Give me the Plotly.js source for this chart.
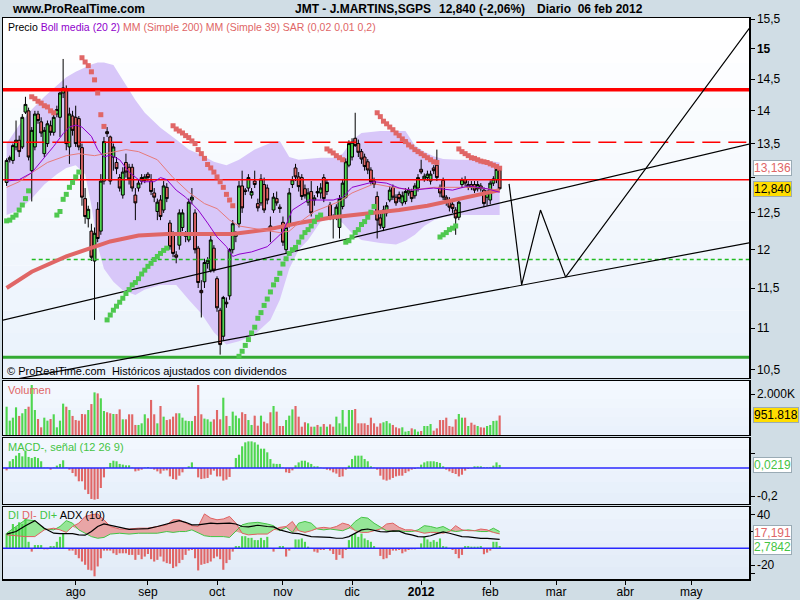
<!DOCTYPE html>
<html>
<head>
<meta charset="utf-8">
<script src="https://cdn.plot.ly/plotly-3.0.1.min.js"></script>
<style>
html,body{margin:0;padding:0;background:#d0dde5;}
#chart{width:800px;height:600px;}
</style>
</head>
<body>
<div id="chart"></div>
<script>
// ================= DATA =================
var firstDay = '2011-06-30', lastDay = '2012-02-06';

var O = [
12.93,13.26,13.25,13.45,13.55,13.45,13.98,14.00,13.10,13.45,
13.95,13.83,13.35,13.50,13.77,13.67,13.95,13.90,14.28,14.33,
13.45,13.92,13.90,13.88,13.44,12.70,12.42,12.25,11.85,12.55,
12.25,12.95,13.68,13.60,13.30,13.22,13.00,12.75,13.22,13.15,
13.15,12.75,12.85,12.95,12.96,13.05,12.95,12.78,12.52,12.68,
12.54,12.86,12.36,12.19,11.93,12.06,12.30,12.18,12.13,12.68,
12.50,12.02,11.47,11.58,11.82,11.73,12.02,11.62,11.22,10.90,
11.32,11.40,12.00,12.18,12.35,12.88,12.82,12.85,12.75,12.95,
12.63,12.64,12.90,12.85,12.32,12.54,12.70,12.58,12.37,12.00,
12.35,12.90,13.14,13.01,13.00,12.84,12.65,12.80,12.68,12.80,
12.78,13.00,12.80,12.61,12.45,12.44,12.30,12.59,12.72,13.18,
13.30,13.58,13.50,13.38,13.30,13.23,13.11,12.95,12.73,12.43,
12.30,12.50,12.68,12.86,12.72,12.76,12.64,12.66,12.78,12.80,
12.74,12.85,13.12,12.98,13.00,12.95,13.14,13.18,12.86,12.96,
12.72,12.68,12.62,12.54,12.44,12.90,12.97,12.86,12.90,12.90,
12.84,12.88,12.82,12.72,12.68,12.92,12.97,13.11];
var H = [
13.28,13.32,13.50,13.85,13.62,13.95,14.22,14.05,13.75,14.00,
14.00,13.90,13.75,13.85,13.85,13.95,14.08,14.30,14.83,14.40,
14.05,14.00,14.08,13.92,13.50,12.85,12.60,12.35,12.30,12.65,
13.05,13.60,13.75,13.62,13.50,13.30,13.05,13.15,13.35,13.20,
13.20,12.85,12.98,13.05,13.05,13.08,13.05,12.85,12.70,12.75,
12.95,12.92,12.40,12.25,11.98,12.55,12.55,12.25,12.70,12.85,
12.55,12.05,11.60,11.88,11.90,12.20,12.06,11.65,11.25,11.40,
11.38,12.02,12.40,12.25,12.95,13.10,12.85,13.05,12.85,13.10,
12.70,13.05,13.00,12.90,12.45,12.78,12.80,12.62,12.45,12.35,
12.85,13.02,13.20,13.08,13.05,12.90,12.85,12.95,12.75,12.88,
12.92,13.05,12.98,12.65,12.48,12.62,12.75,12.98,13.28,13.55,
13.58,13.97,13.56,13.42,13.35,13.27,13.15,13.00,12.80,12.50,
12.60,12.65,12.88,12.90,12.76,12.80,12.80,12.85,12.86,12.84,
12.92,13.05,13.26,13.06,13.10,13.10,13.18,13.41,12.90,13.00,
12.75,12.72,12.65,12.58,12.70,13.00,13.02,12.95,12.95,12.95,
12.95,12.92,12.86,12.82,12.96,13.02,13.15,13.14];
var L = [
12.88,13.22,13.20,13.40,13.30,13.42,13.95,13.25,12.66,13.40,
13.80,13.60,13.30,13.45,13.62,13.62,13.90,13.60,14.20,13.40,
13.20,13.62,13.45,13.40,12.60,12.35,12.30,11.85,11.10,12.10,
12.20,12.90,13.60,12.90,13.10,13.05,12.80,12.70,13.00,12.90,
12.80,12.40,12.80,12.90,12.92,12.95,12.75,12.65,12.40,12.40,
12.50,12.65,12.00,11.90,11.82,12.00,12.25,12.10,12.10,12.62,
11.95,11.50,11.13,11.50,11.75,11.70,11.70,11.20,10.68,10.85,
11.25,11.35,11.95,12.10,12.30,12.50,12.75,12.80,12.70,12.85,
12.52,12.60,12.50,12.62,12.10,12.50,12.60,12.50,12.05,11.95,
12.30,12.85,12.95,12.80,12.68,12.70,12.60,12.45,12.60,12.72,
12.70,12.65,12.75,12.40,12.15,12.40,12.15,12.55,12.70,13.15,
13.25,13.45,13.30,13.20,13.10,13.05,12.90,12.85,12.15,12.28,
12.25,12.45,12.65,12.68,12.60,12.65,12.60,12.62,12.74,12.65,
12.70,12.80,13.05,12.94,12.95,12.90,13.05,12.95,12.72,12.68,
12.60,12.52,12.50,12.20,12.40,12.85,12.88,12.82,12.82,12.78,
12.80,12.80,12.58,12.60,12.62,12.88,12.92,12.82];
var C = [
13.25,13.29,13.47,13.55,13.38,13.90,14.10,13.30,13.70,13.95,
13.85,13.66,13.70,13.80,13.67,13.90,14.02,14.28,14.36,13.50,
13.95,13.70,13.50,13.45,12.72,12.45,12.55,11.90,12.22,12.15,
12.95,13.53,13.65,12.95,13.45,13.13,12.85,13.08,13.08,12.98,
12.85,12.64,12.92,13.00,13.01,13.00,12.80,12.72,12.65,12.45,
12.88,12.70,12.04,11.95,11.90,12.50,12.50,12.22,12.65,12.72,
12.00,11.57,11.44,11.83,11.86,12.13,11.73,11.25,10.80,11.38,
11.30,12.00,12.35,12.22,12.88,12.57,12.80,13.00,12.80,12.90,
12.57,12.98,12.54,12.68,12.28,12.72,12.64,12.56,12.10,12.30,
12.78,12.97,13.01,12.87,12.73,12.74,12.78,12.50,12.71,12.78,
12.85,12.70,12.93,12.44,12.42,12.58,12.70,12.92,13.23,13.50,
13.52,13.47,13.37,13.27,13.16,13.11,12.94,12.90,12.40,12.33,
12.54,12.60,12.82,12.72,12.64,12.70,12.74,12.80,12.82,12.70,
12.88,13.00,13.08,13.02,13.05,13.05,13.10,13.00,12.78,12.72,
12.68,12.58,12.56,12.43,12.65,12.97,12.92,12.90,12.86,12.82,
12.90,12.84,12.63,12.78,12.92,12.98,13.12,12.84];

// volume in thousands
var volume = [
1380,700,845,1350,930,1060,1270,1380,2440,1220,
780,375,845,700,780,1010,375,700,1530,1380,
1220,930,730,700,1025,1010,1220,1510,2080,2030,
1790,1170,1110,1060,1025,1025,1250,765,765,1010,
1010,490,490,570,1010,815,1710,1010,570,1415,
895,730,765,895,1060,1060,845,700,680,680,
930,2440,1010,800,765,650,765,1220,765,1820,
930,440,1140,945,815,1110,1025,730,490,945,
455,945,650,570,1110,1415,1140,440,440,730,
945,1250,1415,895,405,620,570,405,405,490,
405,535,405,520,405,895,570,1220,405,1220,
1220,1270,570,570,570,490,845,570,405,570,
620,680,570,490,375,325,
375,165,195,325,275,165,195,440,440,535,
210,325,730,730,845,440,405,765,1025,845,
845,440,600,500,440,375,360,440,490,685,
700,951.818];

var macdHist = [
-0.017,0.048,0.064,0.088,0.107,0.083,0.124,0.079,0.071,0.079,
0.071,0.048,0.003,0.003,-0.012,0.003,0.017,0.029,0.055,0.003,
-0.012,-0.036,-0.060,-0.095,-0.095,-0.155,-0.186,-0.221,-0.226,-0.221,
-0.143,-0.067,0.003,0.036,0.052,0.048,0.029,0.024,0.019,0.019,
0.003,-0.024,-0.019,-0.012,0.003,0.007,-0.003,-0.012,-0.024,-0.040,
-0.019,-0.017,-0.060,-0.079,-0.083,-0.055,-0.031,-0.003,0.012,0.040,
0.003,-0.067,-0.079,-0.075,-0.071,-0.048,-0.019,-0.060,-0.060,-0.090,
-0.083,-0.064,-0.003,0.071,0.095,0.155,0.183,0.190,0.190,0.183,
0.167,0.138,0.138,0.112,0.064,0.031,0.029,0.029,0.003,-0.031,
-0.036,-0.017,0.019,0.040,0.052,0.052,0.040,0.029,0.012,0.012,
0.003,-0.003,-0.012,-0.017,-0.031,-0.040,-0.064,-0.060,-0.012,0.017,
0.064,0.088,0.088,0.088,0.064,0.048,0.012,0.003,-0.012,-0.055,
-0.083,-0.090,-0.083,-0.071,-0.060,-0.055,
-0.055,-0.036,-0.024,-0.012,-0.007,0.003,0.024,0.040,0.048,0.048,
0.048,0.043,0.036,0.012,-0.012,-0.024,-0.036,-0.043,-0.060,-0.048,
-0.019,-0.007,-0.003,0.012,0.012,0.012,0.004,0.004,0.004,0.017,
0.040,0.0219];

var diHist = [
17.6,19.6,29,25,31,29,35,7.8,-3.9,3.9,
3.9,3.9,-1.2,-1.2,2.7,2.7,7.8,13.7,17.6,0.5,
-2.7,-2.7,-7.8,-11.8,-15.7,-19.6,-25.5,-26.3,-33.3,-21.6,
-11.8,-2.7,-2.7,-2.7,-5.9,-7.8,-5.9,-5.9,-5.9,-7.8,
-7.8,-13.7,-7.8,-12.9,-9.8,-6.7,-12.9,-15.7,-13.7,-9.8,
-15.7,-17.6,-18.4,-23.5,-21.6,-17.6,-13.7,-7.8,-2.7,-2,
-11.8,-26.3,-19.6,-18.5,-17.6,-15.7,-11.8,-9.8,-12.9,-25.5,
-17.6,-13.7,-3.9,2.7,2.7,14.5,14.5,12.5,12.5,9.8,
9.8,12.5,9.8,13.7,0.5,-3.9,-0.5,2.7,2.7,-9.8,
-2.7,0.5,10.6,10.6,11.8,7.8,2,0.5,-3.9,-5.1,
-2,-2,-0.5,-2.7,-6.7,-13.7,-7.8,-11.8,-2,9.8,
15.7,17.6,13.7,17.6,11.8,9.8,7.8,2.7,-0.5,-9,
-12.9,-11.8,-7.8,-2.7,-2.7,-2,
-5.9,-3.9,-2,-1.2,-1.2,0.5,5.9,13.7,10.6,7.8,
9.8,7.8,11.8,2.7,2,0.5,-2,-6.7,-11.8,-7.8,
2.7,2.7,2,2,2,2.7,-7,-5.1,-2.7,7.8,
7.8,2.7842];

// Parabolic SAR, one per session (null = none drawn)
var sar = [
12.39,12.40,12.44,12.47,12.54,12.61,12.70,12.81,
14.22,14.19,14.15,14.12,14.08,14.06,14.00,13.97,
12.47,12.52,12.69,12.76,12.86,12.93,13.01,13.08,
14.85,14.78,14.72,14.62,14.49,14.28,13.94,13.76,
11.10,11.16,11.22,11.27,11.32,11.37,11.43,11.48,11.54,11.57,11.62,11.68,11.73,11.78,11.82,11.87,11.91,11.95,11.99,12.02,
null,
13.77,13.72,13.69,13.66,13.62,13.59,13.54,13.50,13.41,13.35,13.28,13.19,13.14,13.08,13.01,12.94,12.86,12.76,12.68,12.60,
null,
10.66,10.72,10.79,10.86,10.94,11.01,11.12,11.19,11.28,11.36,11.45,11.54,11.61,11.69,11.81,11.88,11.95,12.00,12.03,12.10,12.17,12.23,12.27,12.32,12.38,12.44,12.47,
null,
13.42,13.39,13.36,13.32,13.29,13.26,
12.10,12.12,12.17,12.23,12.27,12.34,12.38,12.44,12.51,12.59,
13.97,13.91,13.84,13.80,13.75,13.71,13.66,13.62,13.57,13.53,13.48,13.45,13.41,13.38,13.35,13.32,13.29,13.26,13.23,13.22,
12.17,12.20,12.23,12.27,12.29,12.32,
13.42,13.38,13.35,13.32,13.29,13.28,13.26,13.24,13.23,13.22,13.20,13.18,13.16,13.136];

// indicator samples: session number counted from 1 Aug 2011
var bollDay   = [-22,-18,-14,-10,-6,-3,0,3,5,7,9,12,15,19,22,27,32,36,40,44,48,52,57,62,65,68,71,74,78,82,85,88,91,97,102,105,108,111,114,117,122,129,135];
var bollUpper = [13.50,13.78,14.02,14.22,14.40,14.53,14.62,14.70,14.74,14.77,14.77,14.73,14.49,14.17,13.97,13.74,13.56,13.41,13.33,13.23,13.18,13.26,13.41,13.51,13.54,13.30,13.26,13.27,13.29,13.29,13.35,13.55,13.66,13.69,13.69,13.69,13.47,13.38,13.31,13.27,13.26,13.26,13.22];
var bollLower = [12.47,12.54,12.70,12.90,13.05,13.14,13.18,13.05,12.60,12.05,11.75,11.58,11.47,11.41,11.48,11.54,11.54,11.35,11.18,10.95,10.80,10.84,10.92,11.10,11.35,11.75,12.00,12.13,12.38,12.44,12.36,12.22,12.13,12.09,12.07,12.12,12.20,12.32,12.40,12.44,12.47,12.47,12.47];
var midDay = [-22,-18,-14,-11,-7,-4,-2,0,2,5,7,9,11,14,17,20,21,25,27,29,32,35,39,42,45,48,50,52,56,61,66,69,74,82,85,88,95,99,103,107,114,120,125,131,135];
var bollMid = [12.95,12.97,13.07,13.23,13.46,13.65,13.75,13.78,13.75,13.61,13.41,13.30,13.33,13.26,13.08,12.97,12.94,12.94,13.00,12.97,12.82,12.72,12.54,12.36,12.17,12.04,11.91,11.94,11.97,12.04,12.24,12.54,12.68,12.68,12.72,12.86,12.94,12.92,12.85,12.82,12.85,12.82,12.88,12.84,12.79];
var mm39Day = [-22,-18,-14,-9,-3,1,6,11,16,20,26,31,36,41,45,49,52,59,65,68,71,76,84,88,95,101,107,114,127,135];
var mm39 = [12.86,12.94,13.07,13.22,13.32,13.35,13.32,13.37,13.41,13.38,13.26,13.00,12.79,12.63,12.56,12.40,12.32,12.27,12.23,12.25,12.36,12.52,12.66,12.78,12.91,12.86,12.82,12.86,12.86,12.82];
var mm200Day = [-22,-14,-3,4,11,20,29,40,50,61,71,82,93,103,112,119,127,135];
var mm200 = [11.50,11.71,11.91,12.01,12.11,12.19,12.21,12.21,12.21,12.27,12.36,12.44,12.49,12.54,12.60,12.67,12.74,12.82];

var diDay = [-22,-19,-16,-13,-10,-7,-5,-3,-1,1,3,5,7,9,11,14,17,20,23,26,29,31,33,35,37,39,41,43,45,47,49,51,53,55,58,61,63,65,67,69,71,73,75,77,79,81,83,85,87,89,91,93,95,97,99,101,103,105,107,109,111,113,115,117,119,121,123,125,127,129,131,133,135];
var diPlus = [18,26,34,33,23,22,26,33,30,22,18,14,12,13,17,18,17,18,18,18,20,19,20,20,22,18,15,14,14,14,13,20,28,30,31,29,27,21,25,19,30,32,30,23,22,23,22,21,24,32,37,36,30,25,21,20,21,20,20,22,27,26,24,26,22,20,21,22,21,20,20,24,20];
var diMinus = [16,15,14,14,22,24,22,19,26,30,38,40,41,34,26,23,23,24,24,26,28,34,34,30,27,26,41,36,34,35,38,30,18,16,17,17,22,25,26,32,21,19,21,24,25,24,26,30,28,21,19,19,21,23,29,30,25,22,22,20,18,19,19,18,20,27,22,21,21,23,22,19,17.191];
var adx = [17,20,27,33,24,18,17.6,17.6,17.6,16,15.7,20,26,29,27.5,25.5,22.5,23,23.5,26,29.4,31,33,31,28,28,29.4,30,29.4,29.4,30,29,26,25.5,27.5,26,25.5,22,19.6,18,17.6,16,14,13.7,13.7,13,12,12,14,17.6,22,23,21.6,20,19.6,20.8,20.5,17.6,16,14,13.7,15,17.6,19.6,18,16,14,13.7,12.5,11.8,11.8,11,10.6];

// drawn levels and trendlines
var levelStrong = 14.33, levelDash = 13.52, levelThin = 12.97, supportDash = 11.87, supportStrong = 10.65;
var lineDates = ['2011-06-28','2012-05-28'];
var trendUpper = [11.09, 13.52];
var trendLower = [10.36, 12.11];
var supportDashStart = '2011-07-12';
var projDates = ['2012-02-09','2012-02-15','2012-02-23','2012-03-06','2012-05-29'];
var projPrices = [12.91, 11.54, 12.54, 11.64, 15.6];

var monthTicks = ['2011-08-01','2011-09-01','2011-10-03','2011-11-01','2011-12-01','2012-01-02','2012-02-01','2012-03-01','2012-04-02','2012-05-01'];
var monthLabels = ['ago','sep','oct','nov','dic','<b>2012</b>','feb','mar','abr','may'];
var priceTicks = [10.5,11,11.5,12,12.5,13,13.5,14,14.5,15,15.5];
var priceTickText = ['10,5','11','11,5','12','12,5','','13,5','14','14,5','<b>15</b>','15,5'];

var lastClose = 12.840, lastSar = 13.136, lastVol = 951.818, lastMacd = 0.0219, lastDiMinus = 17.191, lastDiHist = 2.7842;

// ================= BUILD =================
function tradingDays(a, b) {
  var out = [], d = new Date(a + 'T00:00:00Z'), e = new Date(b + 'T00:00:00Z');
  while (d <= e) { var w = d.getUTCDay(); if (w !== 0 && w !== 6) out.push(d.toISOString().slice(0, 10)); d.setUTCDate(d.getUTCDate() + 1); }
  return out;
}
var dates = tradingDays(firstDay, lastDay);
var base = dates.indexOf('2011-08-01');
function dd(i) { return dates[i + base]; }

var GREEN = '#4fd64f', RED = '#e06666', FONT = 'Liberation Sans, Arial, sans-serif';
var up = C.map(function (c, i) { return c >= O[i]; });
var traces = [];
function line(x, y, xa, ya, color, width, dash) {
  return {type: 'scatter', mode: 'lines', x: x, y: y, xaxis: xa, yaxis: ya, hoverinfo: 'skip', showlegend: false,
          line: {color: color, width: width, dash: dash || 'solid'}};
}

// --- main: Bollinger band (under candles)
var bollX = bollDay.map(dd);
traces.push(line(bollX, bollLower, 'x', 'y', 'rgba(0,0,0,0)', 0));
var bu = line(bollX, bollUpper, 'x', 'y', 'rgba(0,0,0,0)', 0); bu.fill = 'tonexty'; bu.fillcolor = '#d8c7f9';
traces.push(bu);

// --- main overlay: candles, lines, SAR
traces.push({type: 'candlestick', x: dates, open: O, high: H, low: L, close: C, xaxis: 'x', yaxis: 'y5',
  whiskerwidth: 0, hoverinfo: 'skip', showlegend: false,
  increasing: {line: {color: '#000', width: 1}, fillcolor: GREEN},
  decreasing: {line: {color: '#000', width: 1}, fillcolor: RED}});
traces.push(line(lineDates, [levelStrong, levelStrong], 'x', 'y5', '#ff0000', 3.5));
traces.push(line(lineDates, [levelDash, levelDash], 'x', 'y5', '#ff0000', 1.5, '18px,8px'));
traces.push(line(lineDates, [levelThin, levelThin], 'x', 'y5', '#ff0000', 1.5));
traces.push(line([supportDashStart, lineDates[1]], [supportDash, supportDash], 'x', 'y5', '#22bb22', 1.3, '4px,3px'));
traces.push(line(lineDates, [supportStrong, supportStrong], 'x', 'y5', '#33aa33', 3));
traces.push(line(lineDates, trendUpper, 'x', 'y5', '#000', 1.2));
traces.push(line(lineDates, trendLower, 'x', 'y5', '#000', 1.2));
traces.push(line(projDates, projPrices, 'x', 'y5', '#000', 1.2));
traces.push(line(mm200Day.map(dd), mm200, 'x', 'y5', '#e06666', 4));
traces.push(line(mm39Day.map(dd), mm39, 'x', 'y5', '#e77a7a', 1));
traces.push(line(midDay.map(dd), bollMid, 'x', 'y5', '#9000cc', 1));
var sg = {x: [], y: []}, sr = {x: [], y: []};
sar.forEach(function (v, i) { if (v == null) return; var t = v < C[i] ? sg : sr; t.x.push(dates[i]); t.y.push(v); });
traces.push({type: 'scatter', mode: 'markers', x: sg.x, y: sg.y, xaxis: 'x', yaxis: 'y5', hoverinfo: 'skip', showlegend: false,
  marker: {symbol: 'square', size: 5, color: '#4fc84f', line: {width: 0}}});
traces.push({type: 'scatter', mode: 'markers', x: sr.x, y: sr.y, xaxis: 'x', yaxis: 'y5', hoverinfo: 'skip', showlegend: false,
  marker: {symbol: 'square', size: 5, color: '#e06666', line: {width: 0}}});

// --- volume
traces.push({type: 'bar', x: dates, y: volume, xaxis: 'x2', yaxis: 'y2', hoverinfo: 'skip', showlegend: false,
  marker: {color: up.map(function (u) { return u ? GREEN : RED; }), line: {width: 0}}});

// --- MACD
traces.push({type: 'bar', x: dates, y: macdHist, xaxis: 'x3', yaxis: 'y3', hoverinfo: 'skip', showlegend: false,
  marker: {color: macdHist.map(function (v) { return v >= 0 ? GREEN : RED; }), line: {width: 0}}});
traces.push(line(lineDates, [0, 0], 'x3', 'y3', '#2828ff', 1.5));

// --- DI / ADX
var diX = diDay.map(dd);
var diLow = diPlus.map(function (v, i) { return Math.min(v, diMinus[i]); });
traces.push(line(diX, diLow, 'x4', 'y4', 'rgba(0,0,0,0)', 0));
var fp = line(diX, diPlus, 'x4', 'y4', 'rgba(0,0,0,0)', 0); fp.fill = 'tonexty'; fp.fillcolor = 'rgba(140,228,140,0.9)'; traces.push(fp);
traces.push(line(diX, diLow, 'x4', 'y4', 'rgba(0,0,0,0)', 0));
var fm = line(diX, diMinus, 'x4', 'y4', 'rgba(0,0,0,0)', 0); fm.fill = 'tonexty'; fm.fillcolor = 'rgba(232,156,156,0.9)'; traces.push(fm);
traces.push({type: 'bar', x: dates, y: diHist, xaxis: 'x4', yaxis: 'y6', hoverinfo: 'skip', showlegend: false,
  marker: {color: diHist.map(function (v) { return v >= 0 ? GREEN : RED; }), line: {width: 0}}});
traces.push(line(lineDates, [0, 0], 'x4', 'y6', '#2828ff', 1.5));
traces.push(line(diX, diPlus, 'x4', 'y6', '#44c444', 1));
traces.push(line(diX, diMinus, 'x4', 'y6', '#e06060', 1));
traces.push(line(diX, adx, 'x4', 'y6', '#000', 1.2));

// ================= LAYOUT =================
var xrange = ['2011-06-28 20:24', '2012-05-25 09:36'];
function xax(anchor, show) {
  return {anchor: anchor, type: 'date', range: xrange, rangebreaks: [{bounds: ['sat', 'mon']}],
    showline: true, mirror: true, linecolor: '#000', linewidth: 1.5, showgrid: false, zeroline: false,
    ticks: show ? 'outside' : '', ticklen: 4, tickcolor: '#000', showticklabels: show, ticklabelstandoff: -3,
    tickmode: 'array', tickvals: monthTicks, ticktext: monthLabels, tickfont: {size: 12, color: '#000'}, fixedrange: true};
}
function yax(domain, range, extra) {
  var a = {domain: domain, range: range, side: 'right', showline: true, mirror: true, linecolor: '#000', linewidth: 1.5,
    ticks: 'outside', ticklen: 4, tickcolor: '#000', showgrid: false, zeroline: false, tickmode: 'array',
    tickfont: {size: 12, color: '#000'}, fixedrange: true};
  for (var k in extra) a[k] = extra[k];
  return a;
}
var logRange = [Math.log10(10.4066), Math.log10(15.52)];
var adxRange = [-36.5, 49.2];

var shapes = [];
function gradient(yref, top, bottom, n) {
  for (var k = 0; k < n; k++) {
    var t = k / (n - 1);
    var c = top.map(function (v, j) { return Math.round(v + (bottom[j] - v) * t); });
    shapes.push({type: 'rect', xref: 'paper', yref: yref + ' domain', x0: 0, x1: 1, y0: 1 - (k + 1) / n, y1: 1 - k / n,
      fillcolor: 'rgb(' + c.join(',') + ')', line: {width: 0}, layer: 'below'});
  }
}
gradient('y', [255, 255, 255], [234, 242, 252], 16);
gradient('y2', [244, 248, 254], [234, 242, 252], 6);
gradient('y3', [242, 247, 254], [230, 239, 250], 6);
gradient('y4', [236, 243, 252], [226, 235, 247], 6);

function px(x) { return (x - 3) / 746; }
function py(y) { return (579 - y) / 561; }
function txt(x, y, text, size, color, extra) {
  var a = {xref: 'paper', yref: 'paper', x: px(x), y: py(y), xanchor: 'left', yanchor: 'middle', text: text,
    showarrow: false, font: {family: FONT, size: size, color: color}};
  for (var k in extra) a[k] = extra[k];
  return a;
}
function box(yref, y, text, color, bg) {
  return {xref: 'paper', yref: yref, x: 1, y: y, xanchor: 'left', yanchor: 'middle', xshift: 4, text: text, showarrow: false,
    font: {family: FONT, size: 12, color: color}, bgcolor: bg, bordercolor: '#9aabb5', borderwidth: 1, borderpad: 0};
}
function num(v, d) { return v.toFixed(d).replace('.', ','); }

var annotations = [
  txt(10, 9, '<b>www.ProRealTime.com</b>', 12, '#000'),
  txt(293, 9, '<b>JMT - J.MARTINS,SGPS</b>', 12, '#000'),
  txt(437, 9, '<b>' + num(lastClose, 3) + ' (-2,06%)</b>', 12, '#000'),
  txt(535, 9, '<b>Diario\u00a0 06 feb 2012</b>', 12, '#000'),
  txt(6, 27, 'Precio <span style="color:#9000cc">Boll media (20 2)</span> <span style="color:#e06666">MM (Simple 200) MM (Simple 39) SAR (0,02 0,01 0,2)</span>', 10.5, '#000'),
  txt(5, 371, '\u00a9 ProRealTime.com\u00a0 Hist\u00f3ricos ajustados con dividendos', 11, '#000'),
  txt(6, 390, 'Volumen', 11, '#e06666'),
  txt(6, 447, 'MACD-, se\u00f1al (12 26 9)', 11, '#44c444'),
  txt(6, 515, '<span style="color:#44c444">DI</span> <span style="color:#e06666">DI-</span> <span style="color:#44c444">DI+</span> ADX (10)', 11, '#000'),
  box('y', Math.log10(lastSar), num(lastSar, 3), '#e06666', '#ffffff'),
  box('y', Math.log10(lastClose), num(lastClose, 3), '#000', '#ffdd00'),
  box('y2', lastVol, '951.818', '#000', '#ffdd00'),
  box('y3', lastMacd, num(lastMacd, 4), '#44c444', '#ffffff'),
  box('y4', lastDiMinus + 1.5, num(lastDiMinus, 3), '#e06666', '#ffffff'),
  box('y4', lastDiHist - 1.5, num(lastDiHist, 4), '#44c444', '#ffffff')
];

var layout = {
  width: 800, height: 600,
  margin: {l: 3, r: 51, t: 18, b: 21, pad: 0},
  paper_bgcolor: '#d0dde5', plot_bgcolor: '#ffffff',
  font: {family: FONT, size: 12, color: '#000'},
  showlegend: false, hovermode: false, bargap: 0.32, boxgap: 0.1, boxgroupgap: 0,
  xaxis: Object.assign(xax('y', false), {rangeslider: {visible: false}}),
  xaxis2: Object.assign(xax('y2', false), {matches: 'x'}),
  xaxis3: Object.assign(xax('y3', false), {matches: 'x'}),
  xaxis4: Object.assign(xax('y4', true), {matches: 'x'}),
  yaxis: yax([0.3583, 1], logRange, {type: 'log', anchor: 'x', tickvals: priceTicks, ticktext: priceTickText}),
  yaxis5: {type: 'log', range: logRange, overlaying: 'y', anchor: 'x', side: 'right', visible: false, fixedrange: true},
  yaxis2: yax([0.2567, 0.3529], [0, 2634], {anchor: 'x2', tickvals: [2000], ticktext: ['2.000K']}),
  yaxis3: yax([0.1337, 0.2513], [-0.257, 0.214], {anchor: 'x3', tickvals: [0.1, -0.2], ticktext: ['', '-0,2']}),
  yaxis4: yax([0, 0.1283], adxRange, {anchor: 'x4', tickvals: [40, 20, -20, -30], ticktext: ['40', '', '-20', '']}),
  yaxis6: {range: adxRange, overlaying: 'y4', anchor: 'x4', side: 'right', visible: false, fixedrange: true},
  shapes: shapes,
  annotations: annotations
};

Plotly.newPlot('chart', traces, layout, {displayModeBar: false, staticPlot: true});
</script>
</body>
</html>
